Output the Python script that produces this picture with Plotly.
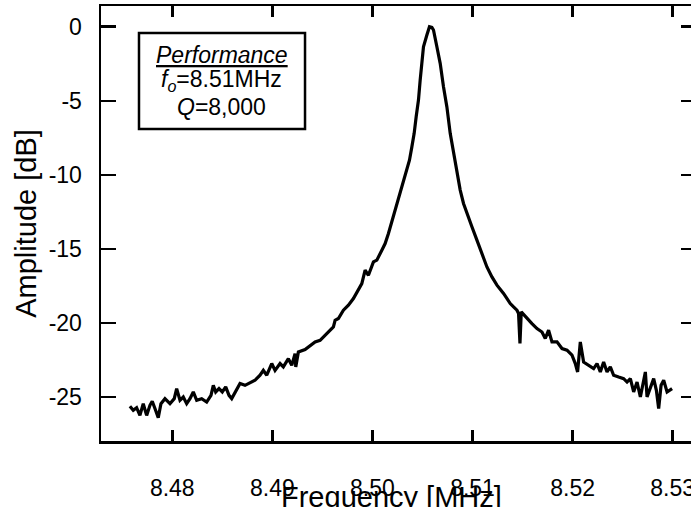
import plotly.graph_objects as go

# Frequency [MHz] and amplitude [dB]
freq_mhz = [
    8.47577, 8.47610, 8.47644, 8.47677, 8.47710, 8.47744, 8.47777, 8.47800, 8.47827, 8.47860,
    8.47887, 8.47927, 8.47977, 8.48020, 8.48044, 8.48077, 8.48110, 8.48144, 8.48177, 8.48210,
    8.48244, 8.48294, 8.48344, 8.48387, 8.48410, 8.48434, 8.48467, 8.48500, 8.48534, 8.48567,
    8.48594, 8.48627, 8.48677, 8.48727, 8.48777, 8.48827, 8.48877, 8.48910, 8.48944, 8.48994,
    8.49027, 8.49077, 8.49110, 8.49160, 8.49194, 8.49227, 8.49234, 8.49260, 8.49327, 8.49377,
    8.49427, 8.49477, 8.49527, 8.49567, 8.49610, 8.49627, 8.49660, 8.49710, 8.49760, 8.49810,
    8.49860, 8.49894, 8.49927, 8.49960, 8.50010, 8.50044, 8.50094, 8.50127, 8.50160, 8.50194,
    8.50227, 8.50260, 8.50294, 8.50337, 8.50370, 8.50394, 8.50417, 8.50437, 8.50460, 8.50477,
    8.50494, 8.50510, 8.50544, 8.50570, 8.50594, 8.50610, 8.50644, 8.50677, 8.50710, 8.50744,
    8.50777, 8.50810, 8.50844, 8.50877, 8.50910, 8.50944, 8.50994, 8.51044, 8.51094, 8.51144,
    8.51194, 8.51244, 8.51310, 8.51360, 8.51377, 8.51410, 8.51444, 8.51460, 8.51474, 8.51487,
    8.51544, 8.51594, 8.51644, 8.51694, 8.51727, 8.51760, 8.51794, 8.51844, 8.51894, 8.51944,
    8.51994, 8.52027, 8.52050, 8.52077, 8.52110, 8.52160, 8.52210, 8.52244, 8.52277, 8.52310,
    8.52344, 8.52377, 8.52410, 8.52460, 8.52510, 8.52544, 8.52577, 8.52610, 8.52644, 8.52677,
    8.52704, 8.52727, 8.52744, 8.52777, 8.52810, 8.52837, 8.52860, 8.52884, 8.52910, 8.52944,
    8.52994,
]
amplitude_db = [
    -25.63, -25.90, -25.72, -26.24, -25.45, -26.24, -25.56, -25.29, -25.78, -26.39,
    -25.45, -25.11, -25.45, -25.11, -24.43, -25.22, -25.00, -25.45, -25.11, -24.66,
    -25.22, -25.11, -25.34, -24.89, -24.21, -24.66, -24.43, -24.66, -24.32, -24.89,
    -25.11, -24.66, -24.09, -24.21, -24.05, -23.87, -23.53, -23.20, -23.53, -22.74,
    -23.20, -22.74, -22.97, -22.41, -22.86, -22.07, -22.97, -21.96, -21.80, -21.51,
    -21.28, -21.17, -20.83, -20.49, -20.27, -19.82, -19.70, -19.14, -18.80, -18.35,
    -17.79, -17.34, -16.44, -16.78, -15.88, -15.76, -15.09, -14.64, -13.96, -13.18,
    -12.39, -11.59, -10.81, -9.91, -9.01, -8.11, -7.20, -6.08, -4.95, -3.60,
    -2.25, -1.35, -0.56, 0.00, -0.04, -0.22, -1.35, -2.47, -4.05, -5.41,
    -7.20, -8.55, -9.68, -11.03, -11.93, -12.61, -13.51, -14.41, -15.31, -16.22,
    -16.89, -17.45, -18.01, -18.58, -18.69, -18.92, -19.14, -19.36, -21.39, -19.25,
    -19.70, -20.04, -20.38, -20.61, -21.05, -20.49, -21.28, -21.28, -21.73, -21.84,
    -22.18, -22.74, -23.31, -21.28, -22.64, -22.86, -23.08, -22.74, -23.31, -22.64,
    -23.31, -22.97, -23.53, -23.65, -23.76, -23.99, -23.76, -24.66, -23.99, -25.00,
    -24.09, -23.31, -25.00, -24.32, -23.76, -24.55, -25.78, -24.21, -23.87, -24.66,
    -24.43,
]

x_tick_vals = [8.48, 8.49, 8.50, 8.51, 8.52, 8.53]
x_tick_text = ["8.48", "8.49", "8.50", "8.51", "8.52", "8.53"]
y_tick_vals = [0, -5, -10, -15, -20, -25]
y_tick_text = ["0", "-5", "-10", "-15", "-20", "-25"]

x_title = "Frequency [MHz]"
y_title = "Amplitude [dB]"

x_range = [8.47288, 8.53183]
y_range = [-27.97, 1.40]

FONT = "Liberation Sans, Arial, Helvetica, sans-serif"

fig = go.Figure()
fig.add_trace(go.Scatter(
    x=freq_mhz, y=amplitude_db, mode="lines",
    line=dict(color="black", width=3.2),
    showlegend=False, hoverinfo="skip",
))
# empty trace so that the right-hand (tick-only) axis is rendered
fig.add_trace(go.Scatter(x=[], y=[], yaxis="y2", mode="lines",
                         showlegend=False, hoverinfo="skip"))

axis_common = dict(
    showgrid=False, zeroline=False, ticks="inside", tickcolor="black",
    tickwidth=2.5, linecolor="black", linewidth=2.5, automargin=False,
    tickfont=dict(family=FONT, size=23, color="black"),
)

fig.update_layout(
    width=691, height=507,
    margin=dict(l=101, r=0, t=6, b=66),
    paper_bgcolor="white", plot_bgcolor="white",
    font=dict(family=FONT, color="black"),
    xaxis=dict(
        **axis_common, range=x_range, tickvals=x_tick_vals, ticktext=x_tick_text,
        ticklen=11, showline=True, mirror="ticks", ticklabelstandoff=25,
        ticklabeloverflow="allow",
    ),
    yaxis=dict(
        **axis_common, range=y_range, tickvals=y_tick_vals, ticktext=y_tick_text,
        ticklen=15, showline=True, mirror=False, ticklabelstandoff=12,
        title=dict(text=y_title, font=dict(family=FONT, size=29, color="black"), standoff=4),
    ),
    yaxis2=dict(
        overlaying="y", side="right", range=y_range, tickvals=y_tick_vals,
        showticklabels=False, ticks="inside", ticklen=10, tickwidth=2.5, tickcolor="black",
        showline=False, showgrid=False, zeroline=False, automargin=False,
    ),
)

# x-axis title (sits partly below the page edge, as in the reference)
fig.add_annotation(text=x_title, xref="paper", yref="paper", x=0.4924, y=-0.1287,
                   xanchor="center", yanchor="middle", showarrow=False,
                   font=dict(family=FONT, size=29, color="black"))

# Performance box
fig.add_shape(type="rect", xref="paper", yref="paper",
              x0=0.0644, x1=0.3458, y0=0.717, y1=0.938,
              line=dict(color="black", width=2.5), fillcolor="white", layer="above")
box_lines = [
    ("<i><u>Performance</u></i>", 0.887),
    ("<i>f</i><sub><i>o</i></sub>=8.51MHz", 0.828),
    ("<i>Q</i>=8,000", 0.768),
]
for txt, yy in box_lines:
    fig.add_annotation(text=txt, xref="paper", yref="paper", x=0.205, y=yy,
                       xanchor="center", yanchor="middle", showarrow=False,
                       font=dict(family=FONT, size=23, color="black"))

fig.write_html(
    "out.html",
    config={"displayModeBar": False, "staticPlot": True},
    post_script="document.body.style.margin='0';document.body.style.overflow='hidden';",
)
